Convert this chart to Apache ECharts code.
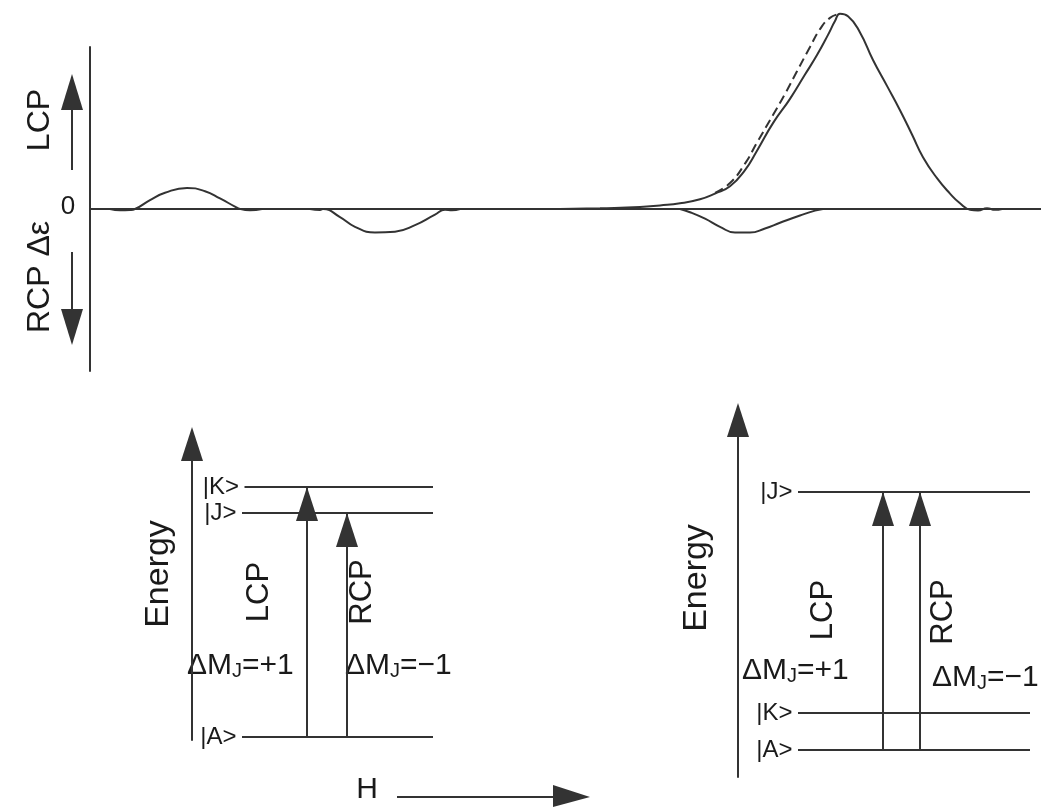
<!DOCTYPE html>
<html><head><meta charset="utf-8">
<script src="https://cdn.jsdelivr.net/npm/echarts@6/dist/echarts.min.js"></script>
<style>html,body{margin:0;padding:0;background:#fff}#c{width:1041px;height:807px}</style>
</head><body><div id="c"></div>
<script>
// ---- spectrum data (field axis in arbitrary units, Δε in arbitrary units) ----
const bumpX = [2.0,3.0,4.0,4.5,6.0,7.5,9.7,11.5,13.0,14.5,15.0,16.0,17.2];
const bumpY = [0,-0.08,-0.06,0,0.55,1.0,1.3,1.1,0.65,0.15,0,-0.08,0];
const dipAX = [22.0,23.0,23.3,25.0,26.5,28.5,30.5,32.5,34.5,35.5,36.2,37.0];
const dipAY = [0,-0.06,0,-0.5,-1.1,-1.45,-1.4,-1.0,-0.35,-0.05,-0.08,0];
const peakX = [47,51,55,57,59,61,62.5,64,65.5,66.7,68.3,70,71.5,72.7,73.8,74.5,75,75.8,77,78.3,79.7,81,82.2,83.3,84.7,86,87,88,88.8,89.7,90.5,91.2];
const peakY = [0,0.05,0.12,0.22,0.35,0.6,0.95,1.4,2.4,3.6,5.3,6.8,8.3,9.5,10.75,11.6,12.05,11.9,10.9,9.2,7.6,6.1,4.6,3.2,1.9,0.95,0.35,-0.05,-0.1,0.05,-0.05,0];
const peakDashX = [62.5,64,65.5,66.7,68.3,69.5,70.7,72.0,73.0,74.0,75];
const peakDashY = [1.0,1.6,2.8,4.1,5.8,7.1,8.5,10.0,11.1,11.8,12.05];
const dipBX = [59,60,61.5,63,64.5,66,67.5,69,71,72.5,73.3];
const dipBY = [0,-0.2,-0.6,-1.1,-1.45,-1.45,-1.2,-0.85,-0.4,-0.1,0];

// ---- energy level diagrams ----
const leftLevelNames = ['|A>','|J>','|K>'];
const leftLevelE = [0.1, 7.67, 8.55];
const leftLevelFrom = [2.0, 2.0, 2.1];
const leftLevelTo = [9.64, 9.64, 9.64];
const leftTransX = [4.6, 6.2];
const leftTransLo = [0, 0];   // index into levels
const leftTransHi = [2, 1];

const rightLevelNames = ['|A>','|K>','|J>'];
const rightLevelE = [0.91, 2.15, 9.58];
const rightLevelFrom = [2.4, 2.4, 2.4];
const rightLevelTo = [11.68, 11.68, 11.68];
const rightTransX = [5.8, 7.28];
const rightTransLo = [0, 0];
const rightTransHi = [2, 2];

const INK = '#333';
const FONT = '"Liberation Sans", Arial, sans-serif';

const zip = (xs, ys) => xs.map((x, i) => [x, ys[i]]);
const curve = (xs, ys, dashed) => ({
  type: 'line', xAxisIndex: 0, yAxisIndex: 0, data: zip(xs, ys), smooth: 0.5,
  symbol: 'none', clip: false, silent: true,
  lineStyle: { color: INK, width: 2, type: dashed ? [9, 5] : 'solid' }
});

const series = [
  curve(bumpX, bumpY), curve(dipAX, dipAY), curve(dipBX, dipBY),
  curve(peakDashX, peakDashY, true), curve(peakX, peakY)
];

function diagram(gi, names, E, from, to, tx, lo, hi) {
  names.forEach((n, i) => {
    series.push({ type: 'line', xAxisIndex: gi, yAxisIndex: gi, symbol: 'none', silent: true,
      data: [[from[i], E[i]], [to[i], E[i]]], lineStyle: { color: INK, width: 2 } });
  });
  series.push({ type: 'scatter', xAxisIndex: gi, yAxisIndex: gi, symbolSize: 1, silent: true,
    itemStyle: { color: 'rgba(0,0,0,0)' },
    data: names.map((n, i) => ({ value: [from[i], E[i]], name: n })),
    label: { show: true, position: 'left', distance: 5, formatter: p => p.name,
      color: '#1a1a1a', fontFamily: FONT, fontSize: 24, opacity: 1 } });
  tx.forEach((x, i) => {
    series.push({ type: 'line', xAxisIndex: gi, yAxisIndex: gi, silent: true,
      symbol: 'triangle', symbolSize: [22, 34], symbolKeepAspect: false,
      data: [{ value: [x, E[lo[i]]], symbol: 'none' },
             { value: [x, E[hi[i]]], symbolOffset: [0, 17] }],
      itemStyle: { color: INK }, lineStyle: { color: INK, width: 2 } });
  });
}
diagram(1, leftLevelNames, leftLevelE, leftLevelFrom, leftLevelTo, leftTransX, leftTransLo, leftTransHi);
diagram(2, rightLevelNames, rightLevelE, rightLevelFrom, rightLevelTo, rightTransX, rightTransLo, rightTransHi);

const hiddenX = (min, max, gi) => ({ type: 'value', gridIndex: gi, min, max, show: false });
const energyY = (min, max, gi) => ({ type: 'value', gridIndex: gi, min, max,
  axisLine: { show: true, lineStyle: { color: INK, width: 2 }, symbol: ['none', 'triangle'], symbolSize: [22, 34] },
  axisTick: { show: false }, axisLabel: { show: false }, splitLine: { show: false } });

const txt = (text, x, y, size, rot) => ({
  type: 'text', x, y, rotation: rot || 0, silent: true,
  style: { text, font: size + 'px ' + FONT, fill: '#1a1a1a', textAlign: 'center', textVerticalAlign: 'middle', verticalAlign: 'middle' }
});
const dm = (sign, x, y) => ({
  type: 'text', x, y, silent: true,
  style: { text: '\u0394M{s|J}=' + sign + '1', font: '30px ' + FONT, fill: '#1a1a1a',
    textAlign: 'left', textVerticalAlign: 'middle', verticalAlign: 'middle',
    rich: { s: { fontSize: 20, fontFamily: FONT, verticalAlign: 'bottom', fill: '#1a1a1a' } } }
});
const vArrow = (x, y0, y1) => {   // shaft from y0 to tip y1
  const up = y1 < y0, h = 36, w = 22;
  const base = up ? y1 + h : y1 - h;
  return [
    { type: 'line', silent: true, shape: { x1: x, y1: y0, x2: x, y2: base }, style: { stroke: INK, lineWidth: 2 } },
    { type: 'polygon', silent: true, shape: { points: [[x - w / 2, base], [x + w / 2, base], [x, y1]] }, style: { fill: INK } }
  ];
};

const graphic = [
  txt('LCP', 40, 120, 32, Math.PI / 2),
  txt('RCP \u0394\u03b5', 40, 277, 32, Math.PI / 2),
  txt('0', 68, 207, 26, 0),
  ...vArrow(72, 170, 74),
  ...vArrow(72, 252, 345),
  // left diagram
  txt('Energy', 159, 574, 34, Math.PI / 2),
  txt('LCP', 259, 592, 31, Math.PI / 2),
  txt('RCP', 362, 592, 31, Math.PI / 2),
  dm('+', 187, 666), dm('\u2212', 345, 666),
  // right diagram
  txt('Energy', 697, 578, 34, Math.PI / 2),
  txt('LCP', 823, 610, 31, Math.PI / 2),
  txt('RCP', 943, 612, 31, Math.PI / 2),
  dm('+', 742, 671), dm('\u2212', 932, 678),
  // H field arrow
  txt('H', 367, 790, 30, 0),
  { type: 'line', silent: true, shape: { x1: 397, y1: 797, x2: 556, y2: 797 }, style: { stroke: INK, lineWidth: 2 } },
  { type: 'polygon', silent: true, shape: { points: [[553, 785], [553, 807], [590, 797]] }, style: { fill: INK } }
];

const option = {
  animation: false,
  backgroundColor: '#fff',
  grid: [
    { left: 90, right: 0, top: 47, height: 324 },
    { left: 192, top: 444, width: 250, bottom: 67 },
    { left: 738, top: 420, width: 300, bottom: 30 }
  ],
  xAxis: [
    { type: 'value', gridIndex: 0, min: 0, max: 95.1,
      axisLine: { show: true, onZero: true, lineStyle: { color: INK, width: 2 } },
      axisTick: { show: false }, axisLabel: { show: false }, splitLine: { show: false } },
    hiddenX(0, 10, 1),
    hiddenX(0, 12, 2)
  ],
  yAxis: [
    { type: 'value', gridIndex: 0, min: -10, max: 10,
      axisLine: { show: true, lineStyle: { color: INK, width: 2 } },
      axisTick: { show: false }, axisLabel: { show: false }, splitLine: { show: false } },
    energyY(0, 10, 1),
    energyY(0, 12, 2)
  ],
  series,
  graphic
};
echarts.init(document.getElementById('c')).setOption(option);
</script></body></html>
